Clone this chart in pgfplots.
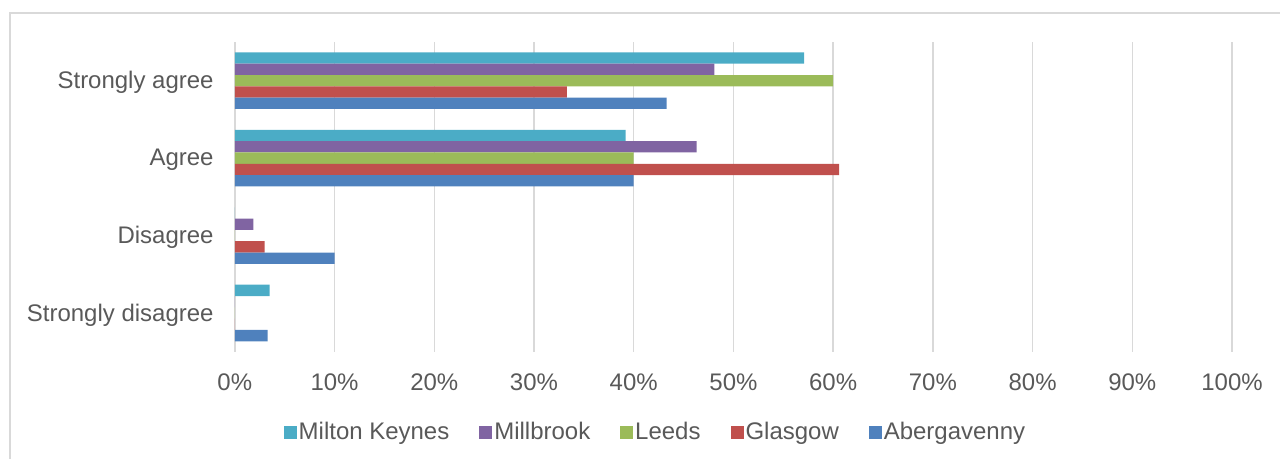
\documentclass[border=0pt]{standalone}
\usepackage{pgfplots}
\pgfplotsset{compat=1.18}
\usepackage{fontspec}
\setmainfont{Liberation Sans}
\definecolor{cMK}{HTML}{4BACC6}
\definecolor{cMB}{HTML}{8064A2}
\definecolor{cLE}{HTML}{9BBB59}
\definecolor{cGL}{HTML}{C0504D}
\definecolor{cAB}{HTML}{4F81BD}
\definecolor{textc}{HTML}{595959}
\definecolor{gridc}{HTML}{D9D9D9}
\pgfplotstableread{
y MK MB LE GL AB
3 57.1 48.1 60.0 33.3 43.3
2 39.2 46.3 40.0 60.6 40.0
1 0 1.85 0 3.0 10.0
0 3.5 0 0 0 3.3
}\datatable
\begin{document}
\fontsize{18}{21.6}\selectfont
\begin{tikzpicture}
\path (-176.25pt,-80.25pt) rectangle (784.5pt,264pt);
\draw[line width=1.5pt, color=gridc] (-168.75pt,-80.25pt) -- (-168.75pt,254.25pt) -- (784.5pt,254.25pt);
\begin{axis}[
  at={(0pt,0pt)}, anchor=south west,
  width=748.5pt, height=232.5pt, scale only axis,
  xbar, bar width=8.5pt,
  xmin=0, xmax=100, ymin=-0.5, ymax=3.5,
  xtick={0,10,...,100},
  xticklabel={\pgfmathprintnumber{\tick}\%},
  ytick={0,1,2,3},
  yticklabels={Strongly disagree,Disagree,Agree,Strongly agree},
  major tick length=0pt,
  xmajorgrids, grid style={color=gridc, line width=1.1pt},
  axis line style={draw=none},
  /pgf/number format/assume math mode=true,
  tick label style={font=\fontsize{18}{21.6}\selectfont, text=textc},
  xticklabel style={yshift=-10pt},
  yticklabel style={xshift=-9.75pt, yshift=-1.5pt},
  legend style={draw=none, at={(0.4218,-0.2613)}, anchor=center,
    legend columns=-1, font=\fontsize{18}{21.6}\selectfont, text=textc,
    /tikz/every even column/.append style={column sep=21pt},
    nodes={inner sep=1.5pt}},
  legend image code/.code={\fill[#1] (0pt,-4.875pt) rectangle (9.75pt,4.875pt);},
  legend cell align=left,
]
\addplot[fill=cMK, draw=none, bar shift=17pt] table[x=MK, y=y] {\datatable};
\addplot[fill=cMB, draw=none, bar shift=8.5pt] table[x=MB, y=y] {\datatable};
\addplot[fill=cLE, draw=none, bar shift=0pt] table[x=LE, y=y] {\datatable};
\addplot[fill=cGL, draw=none, bar shift=-8.5pt] table[x=GL, y=y] {\datatable};
\addplot[fill=cAB, draw=none, bar shift=-17pt] table[x=AB, y=y] {\datatable};
\legend{Milton Keynes,Millbrook,Leeds,Glasgow,Abergavenny}
\end{axis}
\end{tikzpicture}
\end{document}
